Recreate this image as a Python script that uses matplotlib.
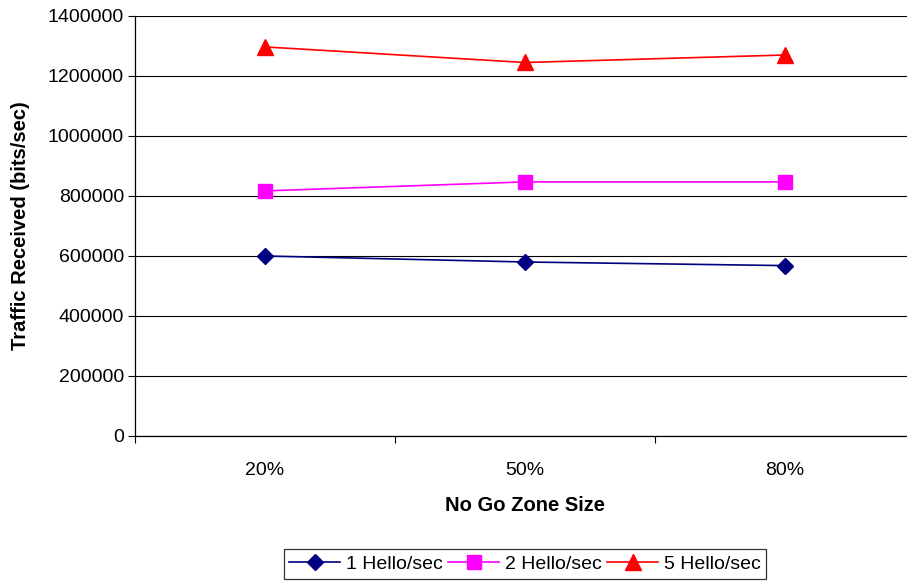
import numpy as np
import matplotlib
matplotlib.use("Agg")
import matplotlib.pyplot as plt
from matplotlib.ticker import FuncFormatter

# ==============================
# DATA
# ==============================
zone_sizes = ["20%", "50%", "80%"]
hello_1 = [600000, 580000, 568000]
hello_2 = [817000, 847000, 847000]
hello_5 = [1297000, 1245000, 1270000]

series_labels = ["1 Hello/sec", "2 Hello/sec", "5 Hello/sec"]

plt.rcParams["font.family"] = ["Liberation Sans", "DejaVu Sans"]

# ==============================
# FIGURE / AXES
# ==============================
fig = plt.figure(figsize=(9.07, 5.84), dpi=100)
ax = fig.add_axes([135 / 907, 1 - 436 / 584, 780 / 907, 420 / 584])

x = np.arange(len(zone_sizes)) + 0.5

ax.plot(x, hello_1, color="#000080", marker="D", markersize=8, lw=1.2,
        label=series_labels[0])
ax.plot(x, hello_2, color="#FF00FF", marker="s", markersize=10, lw=1.2,
        label=series_labels[1])
ax.plot(x, hello_5, color="#FF0000", marker="^", markersize=11, lw=1.2,
        label=series_labels[2])

ax.set_xlim(0, len(zone_sizes))
ax.set_ylim(0, 1400000)

# y axis
ax.set_yticks(np.arange(0, 1400001, 200000))
ax.yaxis.set_major_formatter(FuncFormatter(lambda v, p: f"{int(v)}"))
ax.yaxis.grid(True, color="black", lw=0.8)
ax.set_axisbelow(True)
ax.tick_params(axis="y", direction="out", length=5, labelsize=14, pad=3)

# x axis: ticks on boundaries, labels in between
ax.set_xticks(np.arange(0, len(zone_sizes) + 1))
ax.set_xticklabels([])
ax.set_xticks(x, minor=True)
ax.set_xticklabels(zone_sizes, minor=True)
ax.tick_params(axis="x", which="major", direction="out", length=5)
ax.tick_params(axis="x", which="minor", length=0, labelsize=14, pad=19)

for side in ["top", "right"]:
    ax.spines[side].set_visible(False)
ax.spines["left"].set_linewidth(0.9)
ax.spines["bottom"].set_linewidth(0.9)

ax.set_ylabel("Traffic Received (bits/sec)", fontsize=14.5, fontweight="bold",
              labelpad=13)
ax.set_xlabel("No Go Zone Size", fontsize=14.5, fontweight="bold", labelpad=12)

leg = fig.legend(loc="center", bbox_to_anchor=(525 / 907, 1 - 564 / 584),
                 ncol=3, fontsize=14, frameon=True, fancybox=False,
                 edgecolor="black", handlelength=2.6, handletextpad=0.3,
                 columnspacing=0.3, borderpad=0.3)
leg.get_frame().set_linewidth(0.9)

fig.savefig("out.png", dpi=100)
